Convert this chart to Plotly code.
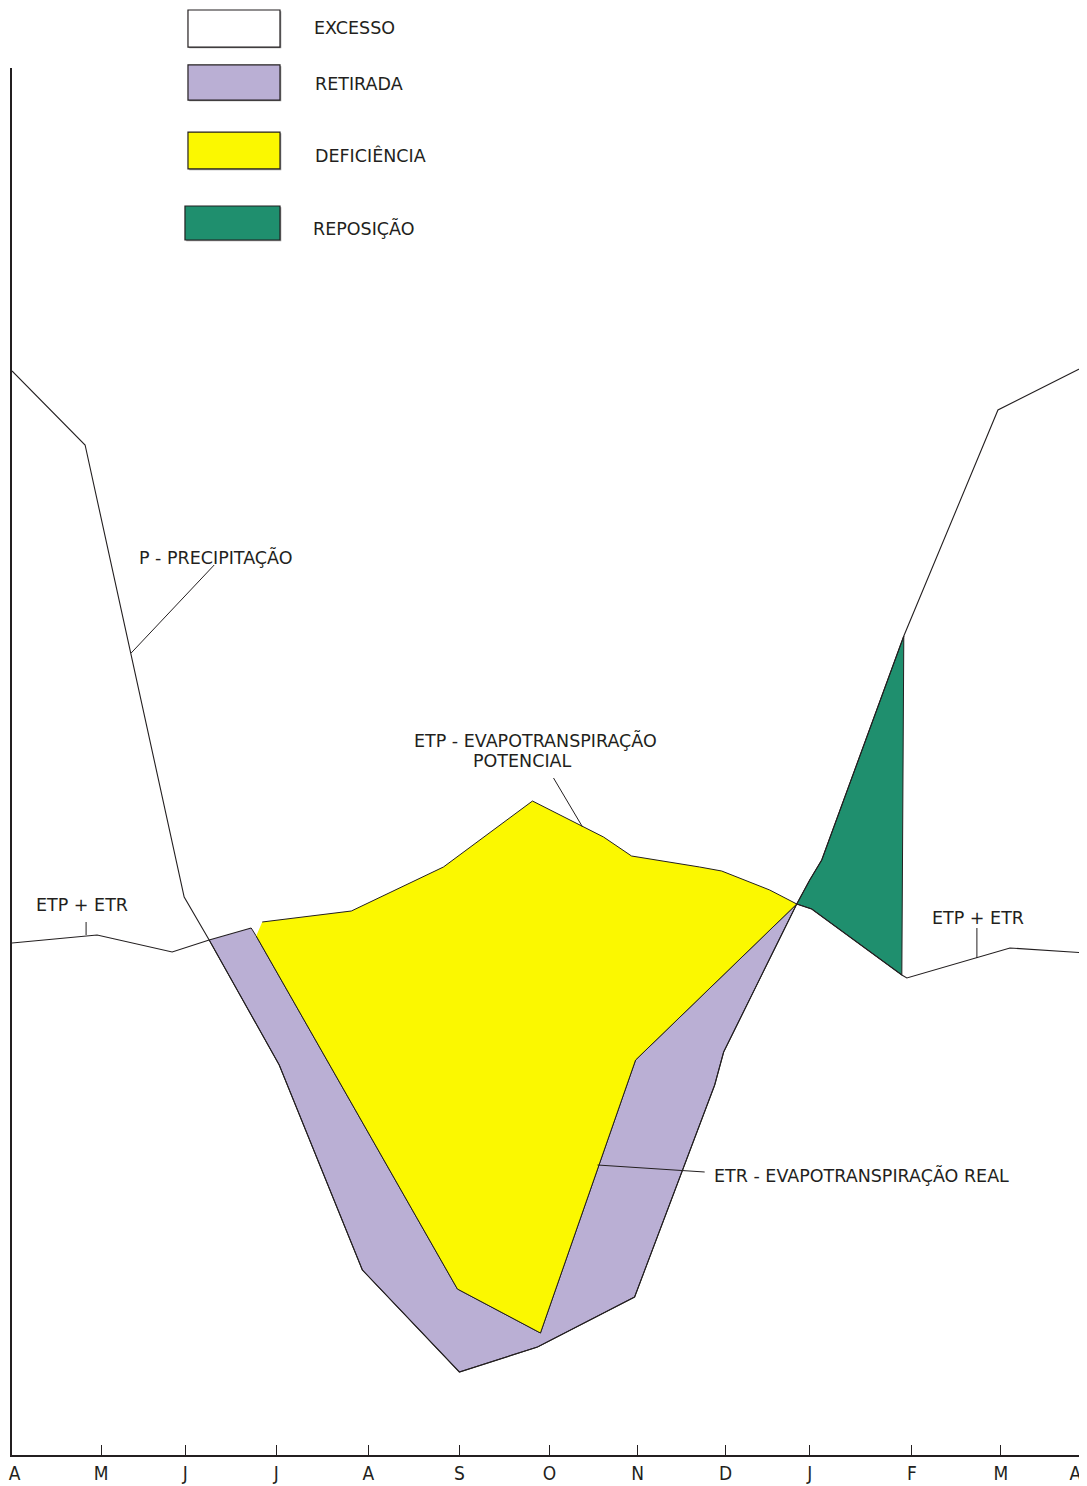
import plotly.graph_objects as go

# ---------------- data (x in months from April, y in mm) ----------------
months = ["A", "M", "J", "J", "A", "S", "O", "N", "D", "J", "F", "M", "A"]
month_pos = [0.03, 0.994, 1.933, 2.950, 3.978, 4.994, 6.0, 6.983, 7.966, 8.905, 10.045, 11.039, 11.87]
tick_pos = [0.994, 1.933, 2.950, 3.978, 4.994, 6.0, 6.983, 7.966, 8.905, 10.045, 11.039]

# P - precipitation
p_x = [0.0, 0.816, 1.922, 2.201, 2.983, 3.911, 4.994, 5.866, 6.950, 7.844, 7.944,
       8.760, 8.905, 9.039, 9.955, 11.006, 12.0]
p_y = [216.8, 202.0, 111.6, 103.0, 78.0, 37.0, 16.6, 21.6, 31.6, 74.0, 80.6,
       110.2, 115.0, 119.0, 163.8, 209.0, 218.0]

# ETP + ETR (equal) before the dry season
etp_left_x = [0.0, 0.950, 1.788, 2.201, 2.670]
etp_left_y = [102.4, 104.0, 100.6, 103.0, 105.4]

# ETP - potential evapotranspiration during the deficit
etp_x = [2.793, 3.788, 4.816, 5.810, 6.603, 6.916, 7.676, 7.922, 8.458, 8.760]
etp_y = [106.6, 108.8, 117.6, 130.8, 123.6, 119.8, 117.6, 116.8, 113.0, 110.2]

# ETR - real evapotranspiration during the deficit
etr_x = [2.726, 4.972, 5.899, 6.961, 8.760]
etr_y = [103.8, 33.2, 24.4, 79.0, 110.2]

# ETP + ETR (equal) after the dry season
etp_right_x = [8.760, 8.927, 9.933, 9.989, 11.140, 12.0]
etp_right_y = [110.2, 109.2, 96.0, 95.4, 101.4, 100.4]

legend_names = ["EXCESSO", "RETIRADA", "DEFICIÊNCIA", "REPOSIÇÃO"]
LINE = "#231F20"
LAV = "#BAAFD4"
YEL = "#FBF800"
GRN = "#1F8F6E"
legend_fills = ["#FFFFFF", LAV, YEL, GRN]

# ---------------- figure ----------------
fig = go.Figure()

# RETIRADA (withdrawal): between P (below) and ETR
lav_x = p_x[3:12] + etr_x[::-1] + [etp_left_x[-1]]
lav_y = p_y[3:12] + etr_y[::-1] + [etp_left_y[-1]]
fig.add_trace(go.Scatter(x=lav_x, y=lav_y, fill="toself", fillcolor=LAV, mode="lines",
                         line=dict(color=LINE, width=1), hoverinfo="skip", showlegend=False))

# DEFICIÊNCIA: between ETR and ETP
yel_x = etp_x + etr_x[::-1]
yel_y = etp_y + etr_y[::-1]
fig.add_trace(go.Scatter(x=yel_x, y=yel_y, fill="toself", fillcolor=YEL, mode="lines",
                         line=dict(color=LINE, width=1), hoverinfo="skip", showlegend=False))

# REPOSIÇÃO: between P and ETP+ETR after the rains return
grn_x = p_x[11:15] + etp_right_x[:3][::-1]
grn_y = p_y[11:15] + etp_right_y[:3][::-1]
fig.add_trace(go.Scatter(x=grn_x, y=grn_y, fill="toself", fillcolor=GRN, mode="lines",
                         line=dict(color=LINE, width=1), hoverinfo="skip", showlegend=False))

# lines
for xs, ys in [(p_x, p_y), (etp_left_x, etp_left_y), (etp_right_x, etp_right_y)]:
    fig.add_trace(go.Scatter(x=xs, y=ys, mode="lines", line=dict(color=LINE, width=1.1),
                             hoverinfo="skip", showlegend=False))

TXT = dict(family="DejaVu Sans", size=17.5, color=LINE)

# leader lines for labels (label anchor -> curve)
leaders = [
    (2.257, 178.0, 1.330, 160.4),   # P
    (6.045, 135.4, 6.369, 125.6),   # ETP
    (6.536, 58.0, 7.732, 56.6),     # ETR
    (0.827, 106.6, 0.827, 104.0),   # ETP+ETR left
    (10.771, 105.4, 10.771, 99.4),  # ETP+ETR right
]
shapes = []
for x0, y0, x1, y1 in leaders:
    shapes.append(dict(type="line", xref="x", yref="y", x0=x0, y0=y0, x1=x1, y1=y1,
                       line=dict(color=LINE, width=1)))

labels = [
    ("P - PRECIPITAÇÃO", 1.397, 179.6),
    ("ETP - EVAPOTRANSPIRAÇÃO", 4.469, 143.0),
    ("POTENCIAL", 5.128, 138.8),
    ("ETR - EVAPOTRANSPIRAÇÃO REAL", 7.810, 56.0),
    ("ETP + ETR", 0.246, 110.0),
    ("ETP + ETR", 10.246, 107.4),
]
annotations = []
for t, x, y in labels:
    annotations.append(dict(text=t, x=x, y=y, xref="x", yref="y", xanchor="left",
                            yanchor="middle", showarrow=False, font=TXT))

# legend boxes (paper coords)
box_rects = [(0.1637, 1.0151, 0.2493, 1.0418), (0.1637, 0.9769, 0.2493, 1.0022),
             (0.1637, 0.9272, 0.2493, 0.9538), (0.1609, 0.8760, 0.2493, 0.9005)]
text_pos = [(0.2791, 1.0288), (0.2800, 0.9885), (0.2800, 0.9366), (0.2781, 0.8846)]
for name, fill, (x0, y0, x1, y1), (tx, ty) in zip(legend_names, legend_fills, box_rects, text_pos):
    # soft grey shadow on right/bottom edges
    shapes.append(dict(type="rect", xref="paper", yref="paper", x0=x0 + 0.0012, y0=y0 - 0.0009,
                       x1=x1 + 0.0012, y1=y1 - 0.0009, fillcolor="#9A9A9A",
                       line=dict(width=0)))
    shapes.append(dict(type="rect", xref="paper", yref="paper", x0=x0, y0=y0, x1=x1, y1=y1,
                       fillcolor=fill, line=dict(color=LINE, width=1.2)))
    annotations.append(dict(text=name, x=tx, y=ty, xref="paper", yref="paper", xanchor="left",
                            yanchor="middle", showarrow=False, font=TXT))

# short frame stub at upper right
shapes.append(dict(type="line", xref="paper", yref="paper", x0=0.9995, x1=0.9995, y0=0.912, y1=1.0,
                   line=dict(color="#888888", width=1)))

# page body has an 8px margin: size and margins compensate for it
fig.update_layout(
    width=1079, height=1478,
    margin=dict(l=4, r=0, t=60, b=31, autoexpand=False),
    paper_bgcolor="white", plot_bgcolor="white",
    template="none",
    shapes=shapes, annotations=annotations,
    showlegend=False,
    xaxis=dict(range=[0, 12], showgrid=False, zeroline=False, showline=True,
               linecolor=LINE, linewidth=1.5, tickmode="array", tickvals=month_pos,
               ticktext=months, ticks="", ticklabeloverflow="allow",
               tickfont=dict(family="Liberation Sans Narrow, DejaVu Sans Condensed, sans-serif",
                             size=19, color=LINE),
               minor=dict(tickmode="array", tickvals=tick_pos, ticks="inside", ticklen=10,
                          tickcolor=LINE, tickwidth=1),
               automargin=False, fixedrange=True),
    yaxis=dict(range=[0, 277.4], showgrid=False, zeroline=False, showline=True,
               linecolor=LINE, linewidth=1.5, showticklabels=False, ticks="",
               automargin=False, fixedrange=True),
)

fig.write_html("out.html")
